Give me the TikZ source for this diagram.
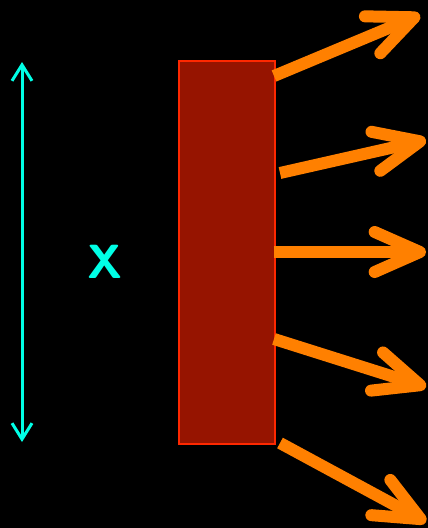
\documentclass[tikz,border=0pt]{standalone}
\usepackage{tikz}
\usetikzlibrary{arrows.meta}
\definecolor{beamOrange}{RGB}{255, 128, 0}
\definecolor{plateFill}{RGB}{150, 20, 0}
\definecolor{plateEdge}{RGB}{255, 40, 0}
\definecolor{sizeCyan}{RGB}{0, 255, 230}

\begin{document}
\begin{tikzpicture}[x=0.75pt, y=-0.75pt,
  ray/.style={beamOrange, line width=9pt,
    -{Straight Barb[length=34pt, width=30pt, round]}},
  span/.style={sizeCyan, line width=2.25pt,
    {Straight Barb[length=12pt, width=15pt]}-{Straight Barb[length=12pt, width=15pt]}}]
  \fill[black] (0,0) rectangle (428,528);
  \useasboundingbox (0,0) rectangle (428,528);

  % slit and its size
  \node[draw=plateEdge, line width=1.5pt, fill=plateFill, anchor=north west,
    minimum width=72pt, minimum height=287pt, inner sep=0pt] (plate) at (178,60) {};
  \coordinate (top) at (22,62);
  \coordinate (bottom) at (22,442);
  \draw[span] (bottom) -- (top);
  \node[sizeCyan, font=\sffamily\bfseries\fontsize{36}{36}\selectfont] (size) at (105,262) {X};

  % outgoing rays
  \coordinate (s1) at (274,76);  \coordinate (e1) at (420,15);
  \coordinate (s2) at (280,173); \coordinate (e2) at (426,140);
  \coordinate (s3) at (274,252); \coordinate (e3) at (426,252);
  \coordinate (s4) at (274,339); \coordinate (e4) at (426,387);
  \coordinate (s5) at (280,443); \coordinate (e5) at (426,522);
  \foreach \i in {1,...,5}
    \draw[ray] (s\i) -- (e\i);
\end{tikzpicture}
\end{document}
